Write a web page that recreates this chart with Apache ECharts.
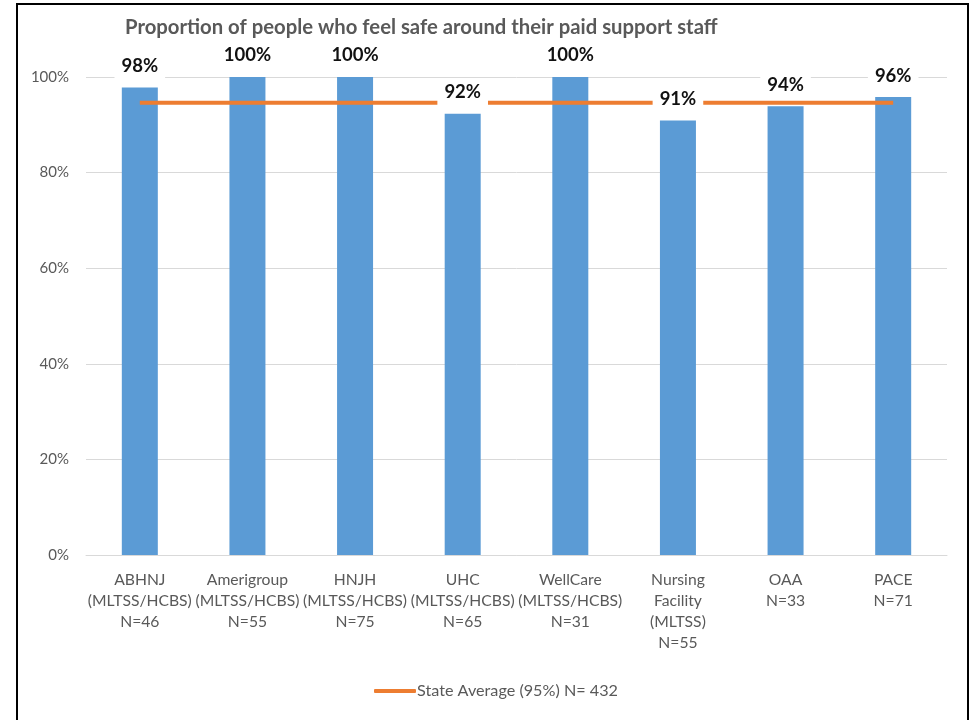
<!DOCTYPE html>
<html>
<head>
<meta charset="utf-8">
<script src="https://cdn.jsdelivr.net/npm/echarts@6/dist/echarts.min.js"></script>
<style>
  html, body { margin: 0; padding: 0; background: #fff; }
  #frame { position: absolute; left: 16px; top: 3px; width: 953px; height: 740px; border: 2px solid #000; box-sizing: border-box; }
  #chart { position: absolute; left: 0; top: 0; width: 972px; height: 720px; }
</style>
</head>
<body>
<div id="frame"></div>
<div id="chart"></div>
<script>
const titleText = 'Proportion of people who feel safe around their paid support staff';
const categories = [
  'ABHNJ\n(MLTSS/HCBS)\nN=46',
  'Amerigroup\n(MLTSS/HCBS)\nN=55',
  'HNJH\n(MLTSS/HCBS)\nN=75',
  'UHC\n(MLTSS/HCBS)\nN=65',
  'WellCare\n(MLTSS/HCBS)\nN=31',
  'Nursing\nFacility\n(MLTSS)\nN=55',
  'OAA\nN=33',
  'PACE\nN=71'
];
const proportions = [0.978, 1.0, 1.0, 0.923, 1.0, 0.909, 0.939, 0.958];
const stateAverage = [0.946, 0.946, 0.946, 0.946, 0.946, 0.946, 0.946, 0.946];
const averageName = 'State Average (95%) N= 432';
const yTicks = [0, 0.2, 0.4, 0.6, 0.8, 1.0];

const chart = echarts.init(document.getElementById('chart'), null, { renderer: 'canvas' });
const font = "Lato, Open Sans, sans-serif";
chart.setOption({
  backgroundColor: 'transparent',
  animation: false,
  title: {
    text: titleText,
    left: 120, top: 12,
    textStyle: { fontFamily: font, fontSize: 20.3, fontWeight: 'bold', color: '#595959' }
  },
  legend: {
    top: 683, left: 374, padding: 0,
    data: [{ name: averageName, icon: 'roundRect' }],
    itemWidth: 42, itemHeight: 4, itemGap: 4,
    textStyle: { fontFamily: font, fontSize: 16.2, color: '#595959', padding: [0, 0, 0, -4] }
  },
  grid: { left: 86, right: 25, top: 77, bottom: 165, containLabel: false },
  xAxis: {
    type: 'category',
    data: categories,
    axisLine: { show: true, lineStyle: { color: '#d9d9d9', width: 1 } },
    axisTick: { show: false },
    axisLabel: {
      interval: 0, margin: 14, color: '#595959',
      fontFamily: font, fontSize: 15.7, lineHeight: 21
    }
  },
  yAxis: {
    type: 'value', min: 0, max: 1, interval: 0.2,
    axisLine: { show: false }, axisTick: { show: false },
    splitLine: { lineStyle: { color: '#d9d9d9', width: 1 } },
    axisLabel: {
      margin: 17, color: '#595959', fontFamily: font, fontSize: 15,
      formatter: v => Math.round(v * 100) + '%'
    }
  },
  series: [
    {
      name: 'Proportion', type: 'bar', data: proportions, barWidth: 36,
      itemStyle: { color: '#5b9bd5' }, z: 2
    },
    {
      name: averageName, type: 'line', data: stateAverage,
      showSymbol: false, symbol: 'none',
      lineStyle: { color: '#ed7d31', width: 4 }, itemStyle: { color: '#ed7d31' }, z: 3
    },
    {
      name: 'labels', type: 'bar', data: proportions, barWidth: 36, barGap: '-100%',
      itemStyle: { color: 'rgba(0,0,0,0)' }, z: 5, silent: true,
      label: {
        show: true, position: 'top', distance: 7,
        formatter: p => Math.round(p.value * 100) + '%',
        fontFamily: font, fontSize: 18.5, fontWeight: 'bold', color: '#111',
        backgroundColor: '#fff', padding: [2, 7, 5, 7]
      }
    }
  ]
});
</script>
</body>
</html>
